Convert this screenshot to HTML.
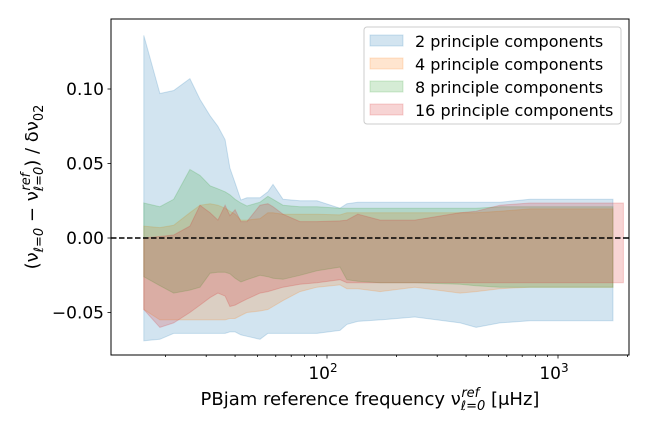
<!DOCTYPE html>
<html><head><meta charset="utf-8"><style>
body{margin:0;background:#fff;}
svg text{font-family:"DejaVu Sans","Liberation Sans",sans-serif;fill:#000;}
</style></head><body>
<svg id="chart" width="648" height="432" viewBox="0 0 648 432" xmlns="http://www.w3.org/2000/svg">
<g id="bands"></g>
<line x1="111" x2="629" y1="238" y2="238" stroke="#000" stroke-width="1.5" stroke-dasharray="5.5,2.5"/>
<rect x="111" y="19" width="518" height="336" fill="none" stroke="#000" stroke-width="1"/>
<g id="axes"></g>
<text x="370" y="405" font-size="18" text-anchor="middle">PBjam reference frequency ν<tspan font-style="italic" font-size="13" dy="5">ℓ=0</tspan><tspan font-style="italic" font-size="13" dy="-13" dx="-24">ref</tspan><tspan dy="8" dx="6"> [μHz]</tspan></text>
<text transform="translate(38,187) rotate(-90)" font-size="18" text-anchor="middle">(ν<tspan font-style="italic" font-size="13" dy="5">ℓ=0</tspan><tspan dy="-5"> − ν</tspan><tspan font-style="italic" font-size="13" dy="5">ℓ=0</tspan><tspan font-style="italic" font-size="13" dy="-13" dx="-24">ref</tspan><tspan dy="8" dx="6">) / δν</tspan><tspan font-size="13" dy="5">02</tspan></text>
<g>
<rect x="364" y="27" width="257" height="97" rx="3" fill="#fff" fill-opacity="0.8" stroke="#ccc"/>
<rect x="370" y="35" width="33" height="11" fill="#1f77b4" fill-opacity="0.2" stroke="#1f77b4" stroke-opacity="0.2"/>
<text x="415" y="47" font-size="16">2 principle components</text>
<rect x="370" y="58" width="33" height="11" fill="#ff7f0e" fill-opacity="0.2" stroke="#ff7f0e" stroke-opacity="0.2"/>
<text x="415" y="70" font-size="16">4 principle components</text>
<rect x="370" y="81" width="33" height="11" fill="#2ca02c" fill-opacity="0.2" stroke="#2ca02c" stroke-opacity="0.2"/>
<text x="415" y="93" font-size="16">8 principle components</text>
<rect x="370" y="104" width="33" height="11" fill="#d62728" fill-opacity="0.2" stroke="#d62728" stroke-opacity="0.2"/>
<text x="415" y="116" font-size="16">16 principle components</text>
</g>
</svg>
<script>
const freqs = [16.1,18.9,21.7,25.5,28.2,31.2,33.7,36.2,38,40,42.4,45,51.3,55.5,58.4,64.5,76.4,90.5,113.8,122,136,170,240,377,442,561,757,1020,1730];
const redFreqs = freqs.concat([1920]);
const blueUpper = [0.136,0.097,0.099,0.107,0.093,0.082,0.075,0.066,0.047,0.037,0.0255,0.027,0.027,0.031,0.036,0.026,0.025,0.025,0.020,0.023,0.024,0.024,0.024,0.024,0.024,0.024,0.026,0.026,0.026];
const blueLower = [-0.069,-0.068,-0.064,-0.064,-0.064,-0.064,-0.064,-0.064,-0.063,-0.063,-0.065,-0.066,-0.068,-0.064,-0.064,-0.064,-0.064,-0.064,-0.062,-0.058,-0.056,-0.055,-0.053,-0.057,-0.060,-0.057,-0.0555,-0.0555,-0.0555];
const orangeUpper = [0.008,0.007,0.0085,0.017,0.022,0.023,0.022,0.020,0.018,0.016,0.012,0.012,0.013,0.017,0.017,0.016,0.016,0.016,0.0155,0.017,0.017,0.017,0.017,0.017,0.017,0.018,0.0195,0.0195,0.0195];
const orangeLower = [-0.048,-0.055,-0.055,-0.055,-0.055,-0.055,-0.055,-0.055,-0.054,-0.054,-0.052,-0.050,-0.049,-0.048,-0.046,-0.042,-0.036,-0.033,-0.0315,-0.034,-0.034,-0.036,-0.033,-0.037,-0.036,-0.034,-0.033,-0.033,-0.033];
const greenUpper = [0.0235,0.021,0.026,0.046,0.042,0.035,0.033,0.031,0.029,0.026,0.0235,0.0215,0.024,0.028,0.026,0.022,0.021,0.021,0.020,0.020,0.020,0.020,0.020,0.020,0.020,0.021,0.021,0.021,0.021];
const greenLower = [-0.026,-0.032,-0.037,-0.035,-0.033,-0.0236,-0.023,-0.023,-0.024,-0.027,-0.0295,-0.028,-0.025,-0.026,-0.027,-0.0277,-0.025,-0.022,-0.0195,-0.028,-0.029,-0.030,-0.030,-0.031,-0.032,-0.033,-0.033,-0.033,-0.033];
const redUpper = [0.0,0.001,0.002,0.008,0.022,0.017,0.012,0.022,0.015,0.019,0.011,0.011,0.022,0.023,0.021,0.016,0.011,0.011,0.0115,0.012,0.016,0.012,0.012,0.017,0.018,0.022,0.0235,0.0235,0.0235,0.0235];
const redLower = [-0.048,-0.060,-0.057,-0.050,-0.045,-0.040,-0.037,-0.039,-0.046,-0.045,-0.043,-0.041,-0.037,-0.036,-0.035,-0.033,-0.031,-0.030,-0.028,-0.030,-0.030,-0.030,-0.030,-0.030,-0.030,-0.030,-0.030,-0.030,-0.030,-0.030];
const yTicks = [-0.05,0.00,0.05,0.10];
const yTickLabels = ["\u22120.05","0.00","0.05","0.10"];
const xMajor = [100,1000];

const NS="http://www.w3.org/2000/svg";
function xs(f){return 327+231*(Math.log10(f)-2);}
function ys(v){return 238-1490*v;}
const bands=document.getElementById('bands');
function band(name,fr,up,lo,color){
  let d='M'+fr.map((f,i)=>xs(f).toFixed(1)+','+ys(up[i]).toFixed(1)).join('L');
  for(let i=fr.length-1;i>=0;i--) d+='L'+xs(fr[i]).toFixed(1)+','+ys(lo[i]).toFixed(1);
  d+='Z';
  const p=document.createElementNS(NS,'path');
  p.setAttribute('d',d);p.setAttribute('fill',color);p.setAttribute('fill-opacity','0.2');
  p.setAttribute('stroke',color);p.setAttribute('stroke-opacity','0.2');
  
  
  bands.appendChild(p);
}
band('band-2-components',freqs,blueUpper,blueLower,'#1f77b4');
band('band-4-components',freqs,orangeUpper,orangeLower,'#ff7f0e');
band('band-8-components',freqs,greenUpper,greenLower,'#2ca02c');
band('band-16-components',redFreqs,redUpper,redLower,'#d62728');
const axes=document.getElementById('axes');
function line(x1,y1,x2,y2){const l=document.createElementNS(NS,'line');l.setAttribute('x1',x1);l.setAttribute('y1',y1);l.setAttribute('x2',x2);l.setAttribute('y2',y2);l.setAttribute('stroke','#000');l.setAttribute('stroke-width','0.8');


axes.appendChild(l);}
function txt(x,y,s,anchor,name){const t=document.createElementNS(NS,'text');t.setAttribute('x',x);t.setAttribute('y',y);t.setAttribute('font-size','17');t.setAttribute('text-anchor',anchor);t.textContent=s;


axes.appendChild(t);return t;}
yTicks.forEach((v,i)=>{const y=ys(v);line(111,y,107.5,y);txt(104,y+6,yTickLabels[i],'end','y-tick-label');});
for(let dec=10;dec<=1000;dec*=10){for(let k=2;k<=9;k++){const f=dec*k;const x=xs(f);if(x>111&&x<629)line(x,355,x,357);}}
xMajor.forEach(f=>{const x=xs(f);line(x,355,x,358.5);const t=txt(x-4,379,'10','middle','x-tick-label');const s=document.createElementNS(NS,'tspan');s.setAttribute('font-size','12');s.setAttribute('dy','-7');s.textContent=String(Math.round(Math.log10(f)));t.appendChild(s);});
</script>
</body></html>
